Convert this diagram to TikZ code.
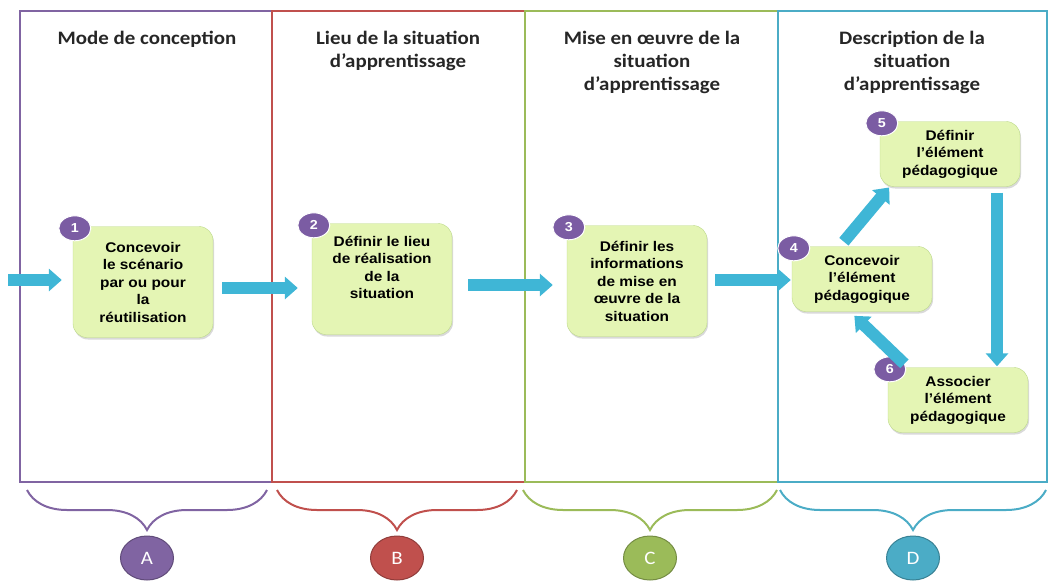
\documentclass[tikz,border=0pt]{standalone}
\usepackage{fontspec}
\setmainfont{Carlito}[FakeStretch=1.1]
\newfontfamily\boitefont{Liberation Sans}[FakeStretch=1.1]
\usepackage{tikz}
\newcommand{\boxwidth}{140pt}
\newcommand{\boxheight}{111pt}
\definecolor{colA}{HTML}{8064A2}
\definecolor{colB}{HTML}{C0504D}
\definecolor{colC}{HTML}{9BBB59}
\definecolor{colD}{HTML}{4BACC6}
\definecolor{myLime}{HTML}{E4F5B4}
\definecolor{myLimeDark}{HTML}{BCD98A}
\definecolor{myCyan}{HTML}{3FB6D6}
\definecolor{myPurple}{HTML}{7B5CA3}
\usetikzlibrary{arrows.meta,calc,decorations.pathreplacing,positioning,shapes.geometric,shadows}
\tikzset{
  x=1pt,y=-1pt,
  colonne/.style={draw=#1,line width=2pt},
  titre/.style={anchor=north,align=center,text=black!85,font=\fontsize{19}{23}\selectfont\bfseries},
  etape/.style={draw=myLimeDark,fill=myLime,rounded corners=14pt,minimum width=\boxwidth,minimum height=\boxheight,align=center,font=\boitefont\fontsize{14}{17.5}\selectfont\bfseries,drop shadow={shadow xshift=1pt,shadow yshift=-2pt,opacity=0.3}},
  num/.style={ellipse,draw=white,line width=1pt,fill=myPurple,text=white,minimum width=32pt,minimum height=25pt,inner sep=0,font=\boitefont\fontsize{13}{13}\selectfont\bfseries},
  fleche/.style={draw=myCyan,line width=12pt,-{Triangle[length=13pt,width=22pt]}},
  accolade/.style={draw=#1,line width=2pt,decorate,decoration={brace,amplitude=40pt,mirror}},
  lettre/.style={ellipse,fill=#1,draw=#1!75!black,line width=1pt,text=white,minimum width=53pt,minimum height=44pt,inner sep=0,font=\fontsize{19}{19}\selectfont},
}

\begin{document}
\begin{tikzpicture}
  \useasboundingbox (0,0) rectangle (1048,583);
  % colonnes
  \draw[colonne=colA] (20,11) rectangle (272,482);
  \draw[colonne=colB] (272,11) rectangle (525,482);
  \draw[colonne=colC] (525,11) rectangle (778,482);
  \draw[colonne=colD] (778,11) rectangle (1047,482);
  % titres
  \node[titre] (tA) at (147,28) {Mode de conception};
  \node[titre] (tB) at (398,28) {Lieu de la situation\\d’apprentissage};
  \node[titre] (tC) at (652,28) {Mise en œuvre de la\\situation\\d’apprentissage};
  \node[titre] (tD) at (912,28) {Description de la\\situation\\d’apprentissage};
  % etapes
  \node[etape] (b1) at (143,282) {Concevoir\\le scénario\\par ou pour\\la\\réutilisation};
  \node[etape] (b2) at (382,279) {Définir le lieu\\de réalisation\\de la\\situation\\[6pt]};
  \node[etape] (b3) at (637,281) {Définir les\\informations\\de mise en\\œuvre de la\\situation};
  \node[etape,minimum height=65pt] (b4) at (862,279) {Concevoir\\l’élément\\pédagogique};
  \node[etape,minimum height=65pt] (b5) at (950,154) {Définir\\l’élément\\pédagogique};
  \node[etape,minimum height=65pt] (b6) at (958,400) {Associer\\l’élément\\pédagogique};
  \foreach \i in {1,...,6}
    \node[num] (n\i) at ([xshift=2pt,yshift=-2pt]b\i.north west) {\i};
  % fleches
  \coordinate (entree) at (8,280);
  \draw[fleche,shorten >=11pt] (entree) -- (entree -| b1.west);
  \draw[fleche,shorten <=9pt,shorten >=14pt] ([yshift=-6pt]b1.east) -- ([yshift=-6pt]b1.east -| b2.west);
  \draw[fleche,shorten <=16pt,shorten >=14pt] ([yshift=-6pt]b2.east) -- ([yshift=-6pt]b2.east -| b3.west);
  \draw[fleche,shorten <=8pt,shorten >=1pt] ([yshift=1pt]b3.east) -- ([yshift=1pt]b3.east -| b4.west);
  \draw[fleche,shorten <=6pt,shorten >=1pt] ([xshift=-22pt]b4.north) -- ([xshift=10pt]b5.south west);
  \draw[fleche,shorten <=6pt,shorten >=1pt] ([xshift=47pt]b5.south) -- ([xshift=47pt]b5.south |- b6.north);
  \draw[fleche,shorten <=5pt,shorten >=6pt] ([xshift=-50pt]b6.north) -- ([xshift=-12pt]b4.south);
  % accolades
  \draw[accolade=colA] (27,490) -- (267,490);
  \draw[accolade=colB] (277,490) -- (517,490);
  \draw[accolade=colC] (523,490) -- (777,490);
  \draw[accolade=colD] (780,490) -- (1046,490);
  \node[lettre=colA] (lA) at (147,558) {A};
  \node[lettre=colB] (lB) at (397,558) {B};
  \node[lettre=colC] (lC) at (650,558) {C};
  \node[lettre=colD] (lD) at (913,558) {D};
\end{tikzpicture}
\end{document}
